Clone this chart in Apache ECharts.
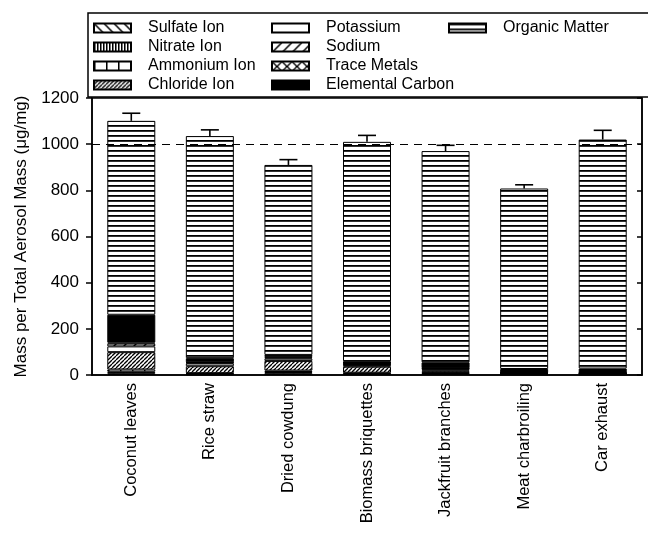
<!DOCTYPE html>
<html><head><meta charset="utf-8">
<script src="https://cdn.jsdelivr.net/npm/echarts@6/dist/echarts.min.js"></script>
<style>html,body{margin:0;padding:0;background:#fff}#c{width:648px;height:533px}</style>
</head><body><div id="c"></div>
<script>
const categories = ['Coconut leaves','Rice straw','Dried cowdung','Biomass briquettes','Jackfruit branches','Meat charbroiling','Car exhaust'];
const sulfate   = [8, 3, 8, 4, 5, 2, 2];
const nitrate   = [6, 2, 5, 3, 3, 2, 2];
const ammonium  = [10, 3, 6, 3, 6, 2, 2];
const chloride  = [75, 30, 42, 26, 6, 2, 1];
const potassium = [25, 12, 10, 5, 5, 1, 1];
const sodium    = [12, 3, 5, 3, 3, 1, 1];
const trace     = [5, 2, 3, 2, 2, 1, 1];
const elemC     = [120, 18, 8, 14, 25, 15, 18];
const organic   = [840, 962, 823, 950, 915, 782, 992];
const errUp     = [33, 27, 23, 28, 25, 16, 40];
const refLine = 1000;
const yTicks = {min: 0, max: 1200, interval: 200};

function pat(size, draw){
  const c = document.createElement('canvas');
  c.width = size[0]; c.height = size[1];
  const g = c.getContext('2d');
  g.fillStyle = '#fff'; g.fillRect(0,0,c.width,c.height);
  g.strokeStyle = '#000'; g.fillStyle = '#000';
  draw(g, c.width, c.height);
  return {image: c, repeat: 'repeat'};
}
function diag(g, s, fwd, lw){
  g.lineWidth = lw;
  for (let k = -1; k <= 1; k++) {
    g.beginPath();
    if (fwd) { g.moveTo(k*s, s); g.lineTo(k*s + s, 0); }
    else { g.moveTo(k*s, 0); g.lineTo(k*s + s, s); }
    g.stroke();
  }
}
const fills = {
  sulfate: pat([10,10], (g)=>diag(g,10,false,1.5)),
  nitrate: pat([3,3], (g)=>{g.fillRect(0,0,1.5,3);}),
  ammonium: pat([12,12], (g)=>{g.fillRect(0,0,1.5,12);}),
  chloride: pat([4,4], (g)=>diag(g,4,true,1.3)),
  potassium: '#fff',
  sodium: pat([10,10], (g)=>diag(g,10,true,1.5)),
  trace: pat([10,10], (g)=>{diag(g,10,true,1.3);diag(g,10,false,1.3);}),
  elemC: '#000',
  organic: pat([5,5], (g)=>{g.fillRect(0,0,5,1.8);})
};

const comps = [
  ['Sulfate Ion', sulfate, fills.sulfate],
  ['Nitrate Ion', nitrate, fills.nitrate],
  ['Ammonium Ion', ammonium, fills.ammonium],
  ['Chloride Ion', chloride, fills.chloride],
  ['Potassium', potassium, fills.potassium],
  ['Sodium', sodium, fills.sodium],
  ['Trace Metals', trace, fills.trace],
  ['Elemental Carbon', elemC, fills.elemC],
  ['Organic Matter', organic, fills.organic]
];
const totals = categories.map((_, i) => comps.reduce((s, c) => s + c[1][i], 0));

const FONT = 'Liberation Sans, Arial, sans-serif';
const series = comps.map((c, idx) => ({
  name: c[0], type: 'bar', stack: 'total', data: c[1], barWidth: 48,
  itemStyle: {color: c[2], borderColor: '#000', borderWidth: 1},
  emphasis: {disabled: true},
  markLine: idx === comps.length - 1 ? {
    symbol: 'none', silent: true, label: {show: false},
    lineStyle: {type: [8, 6], color: '#000', width: 1.2},
    data: [{yAxis: refLine}]
  } : undefined,
  z: 2
}));
series.push({
  type: 'custom', name: 'err', z: 5,
  data: categories.map((_, i) => [i, totals[i], totals[i] + errUp[i]]),
  renderItem: function(params, api){
    const p1 = api.coord([api.value(0), api.value(1)]);
    const p2 = api.coord([api.value(0), api.value(2)]);
    const st = {stroke: '#000', lineWidth: 1.6};
    return {type: 'group', children: [
      {type: 'line', shape: {x1: p1[0], y1: p1[1], x2: p2[0], y2: p2[1]}, style: st},
      {type: 'line', shape: {x1: p2[0]-9, y1: p2[1], x2: p2[0]+9, y2: p2[1]}, style: st}
    ]};
  }
});

function legend(names, left){
  return {
    data: names, orient: 'vertical', left: left, top: 18.5, padding: 0, icon: 'rect',
    itemWidth: 37, itemHeight: 9, itemGap: 0, selectedMode: false,
    textStyle: {fontFamily: FONT, fontSize: 16, color: '#000', lineHeight: 19, padding: [0,0,0,12]}
  };
}

const chart = echarts.init(document.getElementById('c'));
chart.setOption({
  animation: false,
  backgroundColor: '#fff',
  grid: {left: 92, right: 6, top: 98, bottom: 158, show: true, borderColor: '#000', borderWidth: 1.5, backgroundColor: 'transparent'},
  legend: [
    legend(['Sulfate Ion','Nitrate Ion','Ammonium Ion','Chloride Ion'], 93),
    legend(['Potassium','Sodium','Trace Metals','Elemental Carbon'], 271),
    legend(['Organic Matter'], 448)
  ],
  graphic: [{type: 'rect', shape: {x: 88, y: 13, width: 580, height: 84}, style: {fill: 'none', stroke: '#000', lineWidth: 1.5}, z: 10}],
  xAxis: {
    type: 'category', data: categories,
    axisLine: {lineStyle: {color: '#000', width: 1.5}},
    axisTick: {alignWithLabel: true, length: 5, lineStyle: {color: '#000', width: 1.5}},
    axisLabel: {rotate: 90, margin: 8, fontFamily: FONT, fontSize: 16.5, color: '#000'}
  },
  yAxis: [{
    type: 'value', min: yTicks.min, max: yTicks.max, interval: yTicks.interval,
    name: 'Mass per Total Aerosol Mass (μg/mg)', nameLocation: 'middle', nameGap: 59,
    nameTextStyle: {fontFamily: FONT, fontSize: 17, color: '#000'},
    axisLine: {show: true, lineStyle: {color: '#000', width: 1.5}},
    axisTick: {show: true, length: 6, lineStyle: {color: '#000', width: 1.5}},
    axisLabel: {margin: 13, fontFamily: FONT, fontSize: 17, color: '#000', formatter: (v) => String(v)},
    splitLine: {show: false}
  }, {
    type: 'value', position: 'right', min: yTicks.min, max: yTicks.max, interval: yTicks.interval,
    axisLine: {show: true, lineStyle: {color: '#000', width: 1.5}},
    axisTick: {show: true, inside: true, length: 5, lineStyle: {color: '#000', width: 1.5}},
    axisLabel: {show: false}, splitLine: {show: false}
  }],
  series: series
});
</script></body></html>
